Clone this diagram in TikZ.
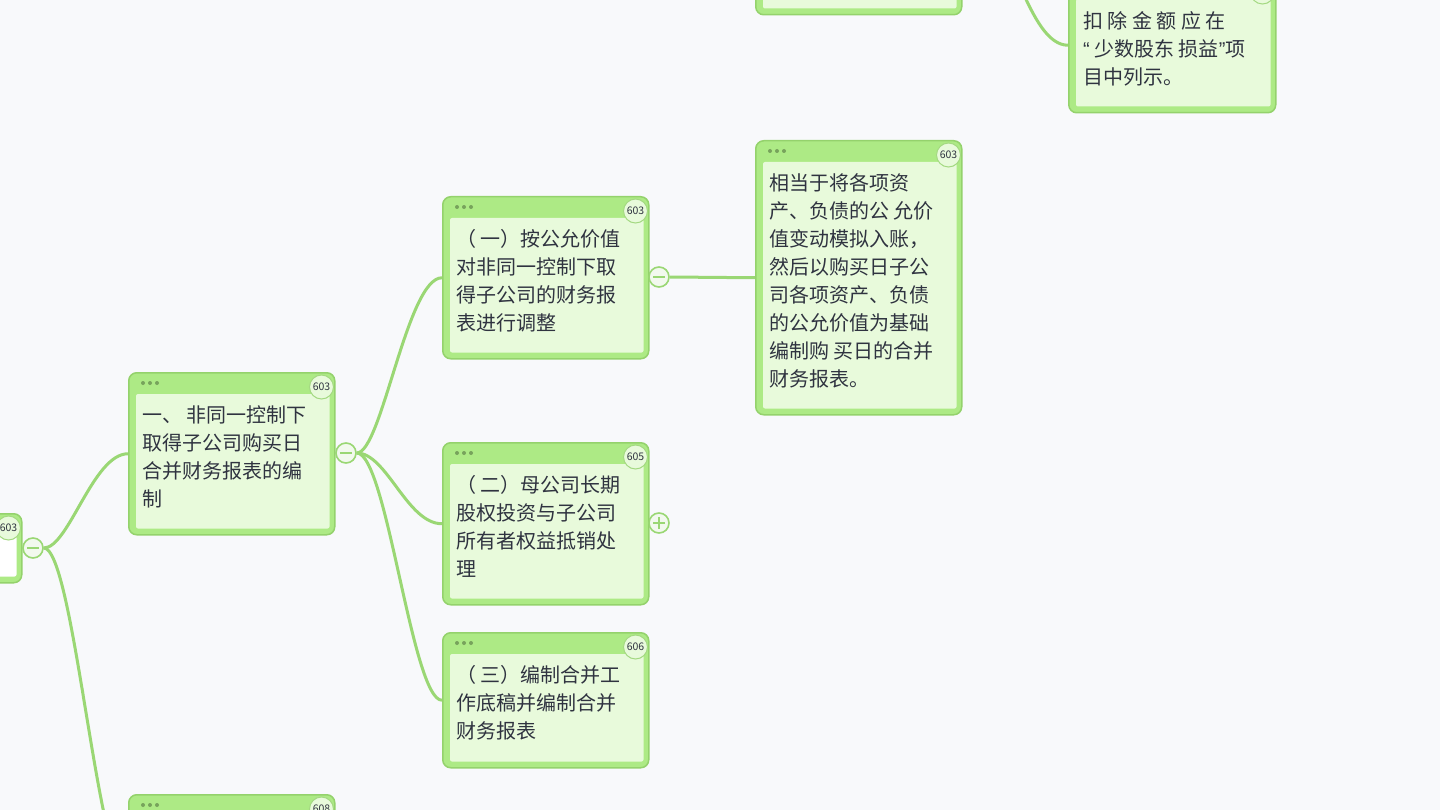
\documentclass[tikz,border=0pt]{standalone}
\usepackage{fontspec}
\setmainfont{Noto Sans CJK SC}
\newfontfamily\quotefont{Liberation Sans}
\usetikzlibrary{calc}

\definecolor{paper}{HTML}{F8F9FB}
\definecolor{leaf}{HTML}{ADEA85}
\definecolor{leafrim}{HTML}{94D26C}
\definecolor{pane}{HTML}{E8FADB}
\definecolor{stem}{HTML}{9AD774}
\definecolor{ink}{HTML}{2F3340}
\definecolor{seed}{HTML}{77A35C}

\pgfdeclarelayer{background}
\pgfsetlayers{background,main}

\tikzset{
	topic/.style={draw=leafrim, fill=leaf, line width=1.5pt, rounded corners=8pt, inner sep=0pt},
	topictext/.style={anchor=north west, inner sep=0pt, align=left, text=ink, font=\fontsize{20}{28}\selectfont},
	badge/.style={circle, draw=leafrim!85, fill=pane, line width=1pt, minimum size=24pt, inner sep=0pt, text=ink, font=\fontsize{10.5}{11}\selectfont},
	fold/.style={circle, draw=stem, fill=pane!40!paper, line width=1.6pt, minimum size=20pt, inner sep=0pt},
	foldmark/.style={draw=stem, line width=1.8pt},
	branch/.style={draw=stem, line width=3pt},
}

% box from (#2,#3) to (#4,#5), name #1, badge #6, pane colour #7
\def\topicbox(#1)(#2,#3)(#4,#5)[#6]#7{%
	\node[topic, anchor=north west, minimum width={(#4)-(#2)}, minimum height={(#5)-(#3)}] (#1) at (#2,#3) {};
	\fill[#7, rounded corners=2pt] ([shift={(8,22)}]#1.north west) rectangle ([shift={(-6,-7)}]#1.south east);
	\foreach \k in {15,22,29} \fill[seed] ([shift={(\k,11)}]#1.north west) circle (2);
	\node[badge] (#1-no) at ([shift={(-14,15)}]#1.north east) {#6};
}

\begin{document}
\begin{tikzpicture}[x=1pt, y=-1pt]
			%%%%% START %%%%%
			
			\useasboundingbox (0,0) rectangle (1440,810);
			\clip (0,0) rectangle (1440,810);
			
			\topicbox(root)(-185,513)(21,582)[603]{white}
			\topicbox(plan)(128,372)(334,534)[603]{pane}
			\topicbox(second)(128,794)(334,956)[608]{pane}
			\topicbox(adjust)(442,196)(648,358)[603]{pane}
			\topicbox(offset)(442,442)(648,604)[605]{pane}
			\topicbox(sheet)(442,632)(648,767)[606]{pane}
			\topicbox(fair)(755,140)(961,414)[603]{pane}
			\topicbox(upper)(755,-148)(961,14)[]{pane}
			\topicbox(deduct)(1068,-23)(1275,112)[]{pane}
			
			\node[fold] (root-fold) at (33,548) {};
			\node[fold] (plan-fold) at (346,453) {};
			\node[fold] (adjust-fold) at (659,277) {};
			\node[fold] (offset-fold) at (659,523) {};
			\coordinate (upper-fold) at (982,-67);
			
			\draw[foldmark] ([xshift=-6pt]root-fold.center) -- ([xshift=6pt]root-fold.center);
			\draw[foldmark] ([xshift=-6pt]plan-fold.center) -- ([xshift=6pt]plan-fold.center);
			\draw[foldmark] ([xshift=-6pt]adjust-fold.center) -- ([xshift=6pt]adjust-fold.center);
			\draw[foldmark] ([xshift=-6pt]offset-fold.center) -- ([xshift=6pt]offset-fold.center);
			\draw[foldmark] ([yshift=-6pt]offset-fold.center) -- ([yshift=6pt]offset-fold.center);
			
			% connectors under the boxes
			\begin{pgfonlayer}{background}
				\fill[paper] (0,0) rectangle (1440,810);
				\draw[branch] (root-fold.east) to[out=0, in=180, out distance=25pt, in distance=35pt] (plan.west);
				\draw[branch] (root-fold.east) to[out=0, in=180, out distance=30pt, in distance=30pt] (second.west);
				\draw[branch] (plan-fold.east) to[out=0, in=180, out distance=25pt, in distance=35pt] (adjust.west);
				\draw[branch] (plan-fold.east) to[out=0, in=180, out distance=30pt, in distance=35pt] (offset.west);
				\draw[branch] (plan-fold.east) to[out=0, in=180, out distance=30pt, in distance=30pt] (sheet.west);
				\draw[branch] (adjust-fold.east) -- (fair.west);
				\draw[branch] (upper-fold) to[out=0, in=180, out distance=30pt, in distance=40pt] (deduct.west);
			\end{pgfonlayer}
			
			\node[topictext] (plan-text) at ([shift={(14,33)}]plan.north west) {一、 非同一控制下\\取得子公司购买日\\合并财务报表的编\\制};
			\node[topictext] (adjust-text) at ([shift={(14,33)}]adjust.north west) {（ 一）按公允价值\\对非同一控制下取\\得子公司的财务报\\表进行调整};
			\node[topictext] (offset-text) at ([shift={(14,33)}]offset.north west) {（ 二）母公司长期\\股权投资与子公司\\所有者权益抵销处\\理};
			\node[topictext] (sheet-text) at ([shift={(14,33)}]sheet.north west) {（ 三）编制合并工\\作底稿并编制合并\\财务报表};
			\node[topictext] (fair-text) at ([shift={(14,33)}]fair.north west) {相当于将各项资\\产、负债的公 允价\\值变动模拟入账，\\然后以购买日子公\\司各项资产、负债\\的公允价值为基础\\编制购 买日的合并\\财务报表。};
			\node[topictext] (deduct-text) at ([shift={(15,34)}]deduct.north west) {扣 除 金 额 应 在\\{\quotefont “} 少数股东 损益{\quotefont ”}项\\目中列示。};
			
			%%%%% END %%%%%
\end{tikzpicture}
\end{document}
